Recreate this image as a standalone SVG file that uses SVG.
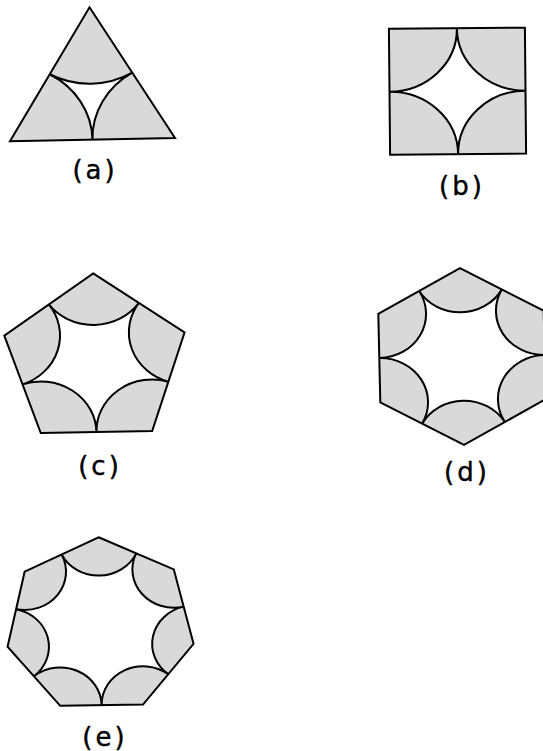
<svg xmlns="http://www.w3.org/2000/svg" width="543" height="751" viewBox="0 0 543 751">
<style>
.poly{fill:#d9d9d9;stroke:#000;stroke-width:2;stroke-linejoin:miter;vector-effect:non-scaling-stroke}
.hole{fill:#fff;stroke:#000;stroke-width:2;vector-effect:non-scaling-stroke}
.lbl{font-family:"DejaVu Sans","Liberation Sans",sans-serif;font-size:26px;letter-spacing:3px;text-anchor:middle;fill:#000;stroke:#000;stroke-width:0.4px}
</style>
<rect width="543" height="751" fill="#fff"/>
<g id="fig-a">
<g transform="translate(91.5,95.5) scale(1,0.926) rotate(-1.2)">
<polygon class="poly" points="0,-95.3 82.53,47.65 -82.53,47.65"/>
<path class="hole" d="M-41.27,-23.83 A82.53,82.53 0 0 0 41.27,-23.83 A82.53,82.53 0 0 0 0,47.65 A82.53,82.53 0 0 0 -41.27,-23.83 Z"/>
</g>
<text class="lbl" x="95" y="179">(a)</text>
</g>
<g id="fig-b">
<g transform="translate(457.5,91.2) scale(1,0.926) rotate(-0.5)">
<polygon class="poly" points="-68,-68 68,-68 68,68 -68,68"/>
<path class="hole" d="M-68,0 A68,68 0 0 0 0,-68 A68,68 0 0 0 68,0 A68,68 0 0 0 0,68 A68,68 0 0 0 -68,0 Z"/>
</g>
<text class="lbl" x="462" y="195">(b)</text>
</g>
<g id="fig-c">
<g transform="translate(95,361.1) scale(1,0.926) rotate(-1.1)">
<polygon class="poly" points="0,-94.8 90.16,-29.3 55.72,76.7 -55.72,76.7 -90.16,-29.3"/>
<path class="hole" d="M-45.08,-62.05 A55.72,55.72 0 0 0 45.08,-62.05 A55.72,55.72 0 0 0 72.94,23.7 A55.72,55.72 0 0 0 0,76.7 A55.72,55.72 0 0 0 -72.94,23.7 A55.72,55.72 0 0 0 -45.08,-62.05 Z"/>
</g>
<text class="lbl" x="100" y="474.5">(c)</text>
</g>
<g id="fig-d">
<g transform="translate(462,356.5) scale(1,0.926) rotate(-1.2)">
<polygon class="poly" points="0,-95.5 82.71,-47.75 82.71,47.75 0,95.5 -82.71,47.75 -82.71,-47.75"/>
<path class="hole" d="M-41.36,-71.63 A47.75,47.75 0 0 0 41.36,-71.63 A47.75,47.75 0 0 0 82.71,0 A47.75,47.75 0 0 0 41.36,71.63 A47.75,47.75 0 0 0 -41.36,71.63 A47.75,47.75 0 0 0 -82.71,0 A47.75,47.75 0 0 0 -41.36,-71.63 Z"/>
</g>
<text class="lbl" x="467" y="481">(d)</text>
</g>
<g id="fig-e">
<g transform="translate(100.2,625.6) scale(1,0.926) rotate(-0.95)">
<polygon class="poly" points="0,-95.4 74.59,-59.48 93.01,21.23 41.39,85.95 -41.39,85.95 -93.01,21.23 -74.59,-59.48"/>
<path class="hole" d="M-37.3,-77.44 A41.39,41.39 0 0 0 37.3,-77.44 A41.39,41.39 0 0 0 83.8,-19.13 A41.39,41.39 0 0 0 67.2,53.59 A41.39,41.39 0 0 0 0,85.95 A41.39,41.39 0 0 0 -67.2,53.59 A41.39,41.39 0 0 0 -83.8,-19.13 A41.39,41.39 0 0 0 -37.3,-77.44 Z"/>
</g>
<text class="lbl" x="105" y="745.5">(e)</text>
</g>
</svg>
